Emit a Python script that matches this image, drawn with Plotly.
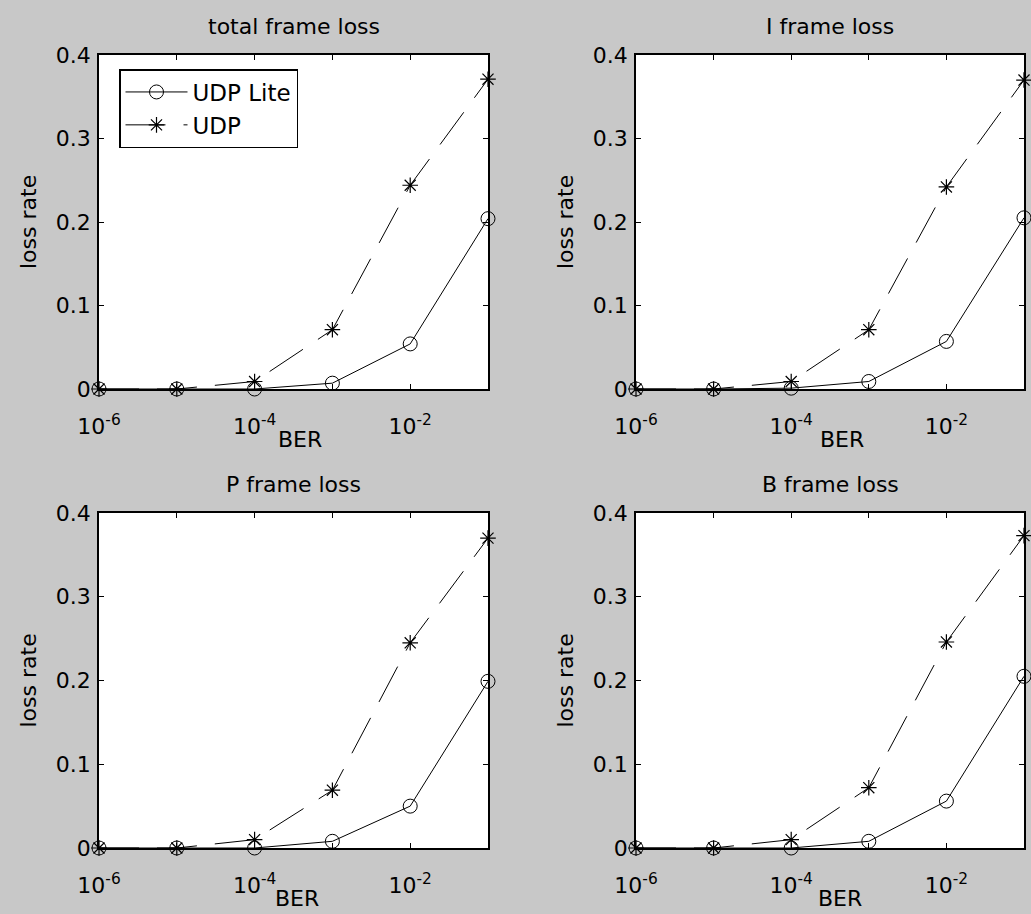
import plotly.graph_objects as go

# BER values (x) and loss rates
ber = [1e-6, 1e-5, 1e-4, 1e-3, 1e-2, 1e-1]

total_lite = [0, 0, 0, 0.007, 0.054, 0.204]
total_udp = [0, 0, 0.009, 0.071, 0.244, 0.371]
i_lite = [0, 0, 0.001, 0.009, 0.057, 0.205]
i_udp = [0, 0, 0.009, 0.071, 0.242, 0.370]
p_lite = [0, 0, 0, 0.008, 0.050, 0.199]
p_udp = [0, 0, 0.010, 0.069, 0.245, 0.370]
b_lite = [0, 0, 0, 0.008, 0.056, 0.205]
b_udp = [0, 0, 0.010, 0.072, 0.246, 0.373]

titles = ["total frame loss", "I frame loss", "P frame loss", "B frame loss"]
lite_series = [total_lite, i_lite, p_lite, b_lite]
udp_series = [total_udp, i_udp, p_udp, b_udp]

x_tickvals = [1e-6, 1e-5, 1e-4, 1e-3, 1e-2, 1e-1]
x_ticktext = ["10<sup>-6</sup>", "", "10<sup>-4</sup>", "", "10<sup>-2</sup>", ""]
y_tickvals = [0, 0.1, 0.2, 0.3, 0.4]
y_ticktext = ["0", "0.1", "0.2", "0.3", "0.4"]

W, H = 1031, 914
FONT = "DejaVu Sans"
BG = "#c8c8c8"

# pixel boxes of the four axes (left, right, top, bottom)
boxes = [(99, 488, 55, 389), (636, 1024, 55, 389),
         (99, 488, 513, 848), (636, 1024, 513, 848)]
ber_shift = [6, 12, 3, 10]

fig = go.Figure()
annotations = []

for k in range(4):
    n = "" if k == 0 else str(k + 1)
    xa, ya = "x" + n, "y" + n
    fig.add_trace(go.Scatter(
        x=ber, y=lite_series[k], name="UDP Lite", mode="lines+markers",
        line=dict(color="black", width=1),
        marker=dict(symbol="circle-open", size=14, color="black", line=dict(width=1)),
        xaxis=xa, yaxis=ya, cliponaxis=False, showlegend=(k == 0)))
    fig.add_trace(go.Scatter(
        x=ber, y=udp_series[k], name="UDP", mode="lines+markers",
        line=dict(color="black", width=1, dash="40px,18px"),
        marker=dict(symbol="asterisk-open", size=13, color="black", line=dict(width=1.2)),
        xaxis=xa, yaxis=ya, cliponaxis=False, showlegend=(k == 0)))

    l, r, t, b = boxes[k]
    axis_common = dict(showline=True, linecolor="black", linewidth=1.5, mirror="ticks",
                       ticks="inside", ticklen=5, tickcolor="black", showgrid=False,
                       zeroline=False, automargin=False,
                       tickfont=dict(family=FONT, size=22, color="black"))
    fig.update_layout(**{
        "xaxis" + n: dict(domain=[l / W, r / W], anchor=ya, type="log",
                          range=[-6.0001, -0.9999],
                          tickvals=x_tickvals, ticktext=x_ticktext, ticklabelstandoff=17,
                          **axis_common),
        "yaxis" + n: dict(domain=[1 - b / H, 1 - t / H], anchor=xa, range=[0, 0.4],
                          tickvals=y_tickvals, ticktext=y_ticktext, ticklabelstandoff=2,
                          **axis_common),
    })

    annotations.append(dict(text=titles[k], xref=xa + " domain", yref=ya + " domain",
                            x=0.5, y=1, xanchor="center", yanchor="bottom", yshift=14,
                            showarrow=False, font=dict(family=FONT, size=22, color="black")))
    annotations.append(dict(text="BER", xref=xa + " domain", yref=ya + " domain",
                            x=0.5, y=0, xanchor="center", yanchor="top",
                            xshift=ber_shift[k], yshift=-36,
                            showarrow=False, font=dict(family=FONT, size=22, color="black")))
    annotations.append(dict(text="loss rate", xref=xa + " domain", yref=ya + " domain",
                            x=0, y=0.5, xanchor="center", yanchor="middle", xshift=-71,
                            textangle=-90, showarrow=False,
                            font=dict(family=FONT, size=22, color="black")))

fig.update_layout(
    width=W, height=H,
    margin=dict(l=0, r=0, t=0, b=0),
    paper_bgcolor=BG, plot_bgcolor="white",
    annotations=annotations,
    legend=dict(x=119 / W, y=1 - 69 / H, xanchor="left", yanchor="top",
                bgcolor="white", bordercolor="black", borderwidth=1.5,
                itemwidth=62, entrywidth=205, entrywidthmode="pixels",
                font=dict(family=FONT, size=23, color="black"), tracegroupgap=0),
)

fig.write_html("out.html", config={"displayModeBar": False},
               post_script="document.body.style.margin='0';")
